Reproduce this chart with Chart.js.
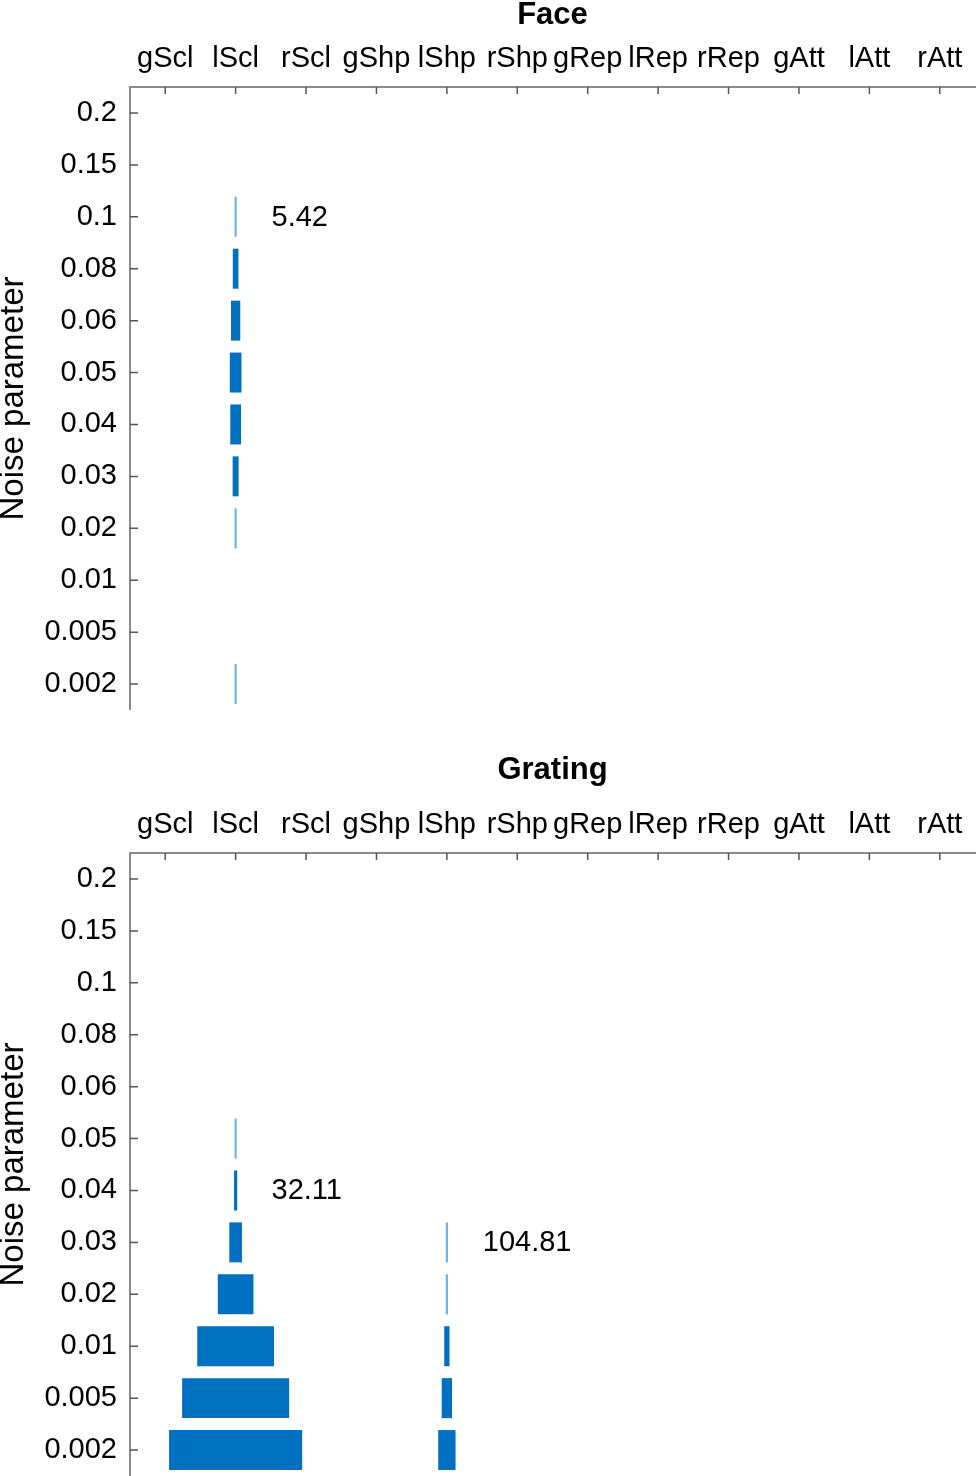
<!DOCTYPE html>
<html>
<head>
<meta charset="utf-8">
<script src="https://cdn.jsdelivr.net/npm/chart.js@4"></script>
<style>
  body { margin: 0; background: #fff; overflow: hidden; }
  .panel { position: absolute; left: 0; width: 977px; }
</style>
</head>
<body>
<div class="panel" style="top:0"><canvas id="face" width="977" height="710"></canvas></div>
<div class="panel" style="top:746px"><canvas id="grating" width="977" height="730"></canvas></div>
<script>
const columns = ['gScl', 'lScl', 'rScl', 'gShp', 'lShp', 'rShp', 'gRep', 'lRep', 'rRep', 'gAtt', 'lAtt', 'rAtt'];
const noiseLevels = ['0.2', '0.15', '0.1', '0.08', '0.06', '0.05', '0.04', '0.03', '0.02', '0.01', '0.005', '0.002'];

// bar widths, in units of one column
const faceLScl = [0, 0, 0.03, 0.08, 0.132, 0.166, 0.152, 0.085, 0.03, 0, 0, 0.03];
const gratingLScl = [0, 0, 0, 0, 0, 0.03, 0.045, 0.18, 0.507, 1.09, 1.52, 1.89];
const gratingLShp = [0, 0, 0, 0, 0, 0, 0, 0.03, 0.03, 0.075, 0.147, 0.246];

const faceNotes = [{ col: 'lScl', row: '0.1', text: '5.42' }];
const gratingNotes = [
  { col: 'lScl', row: '0.04', text: '32.11' },
  { col: 'lShp', row: '0.03', text: '104.81' }
];

const FONT = '"Liberation Sans", Arial, Helvetica, sans-serif';
const dark = '#0070c0';
const light = '#6cb0e2';

function column(name, widths) {
  const c = columns.indexOf(name);
  return {
    label: name,
    data: widths.map(w => w > 0 ? [c - w / 2, c + w / 2] : null),
    backgroundColor: widths.map(w => w < 0.04 ? light : dark),
    borderWidth: 0,
    barPercentage: 0.77,
    categoryPercentage: 1,
    grouped: false
  };
}

const innerTicks = {
  id: 'innerTicks',
  afterDraw(chart) {
    const ctx = chart.ctx;
    const { x, y } = chart.scales;
    const area = chart.chartArea;
    ctx.save();
    ctx.strokeStyle = '#555';
    ctx.lineWidth = 1.5;
    ctx.beginPath();
    x.ticks.forEach((t, i) => {
      const px = x.getPixelForTick(i);
      ctx.moveTo(px, area.top);
      ctx.lineTo(px, area.top + 7);
    });
    y.ticks.forEach((t, i) => {
      const py = y.getPixelForTick(i);
      ctx.moveTo(area.left, py);
      ctx.lineTo(area.left + 8, py);
    });
    ctx.stroke();
    ctx.restore();
  }
};

const notesPlugin = {
  id: 'notes',
  afterDatasetsDraw(chart, args, opts) {
    const ctx = chart.ctx;
    const { x, y } = chart.scales;
    ctx.save();
    ctx.font = '29px ' + FONT;
    ctx.fillStyle = '#000';
    ctx.textAlign = 'left';
    ctx.textBaseline = 'middle';
    opts.items.forEach(n => {
      const px = x.getPixelForValue(columns.indexOf(n.col) + 0.51);
      const py = y.getPixelForValue(noiseLevels.indexOf(n.row));
      ctx.fillText(n.text, px, py + 1);
    });
    ctx.restore();
  }
};

function makeChart(id, title, datasets, notes, axisHeight, titlePad) {
  return new Chart(document.getElementById(id), {
    type: 'bar',
    data: { labels: noiseLevels, datasets: datasets },
    plugins: [innerTicks, notesPlugin],
    options: {
      indexAxis: 'y',
      responsive: false,
      animation: false,
      devicePixelRatio: 1,
      layout: { padding: { left: 0, right: 2, top: 0, bottom: 0 } },
      plugins: {
        legend: { display: false },
        tooltip: { enabled: false },
        notes: { items: notes }
      },
      scales: {
        x: {
          type: 'linear',
          position: 'top',
          min: -0.5,
          max: 11.5,
          afterBuildTicks: scale => { scale.ticks = columns.map((c, i) => ({ value: i })); },
          afterFit: scale => { scale.height = axisHeight; },
          ticks: {
            callback: v => columns[v],
            autoSkip: false,
            maxRotation: 0,
            padding: 11,
            color: '#000',
            font: { family: FONT, size: 29 }
          },
          grid: { display: false, drawTicks: false },
          border: { display: true, color: '#8a8a8a', width: 2 },
          title: {
            display: true,
            text: title,
            color: '#000',
            font: { family: FONT, size: 31, weight: 'bold', lineHeight: 1 },
            padding: { top: titlePad, bottom: 0 }
          }
        },
        y: {
          type: 'category',
          position: 'left',
          offset: true,
          afterFit: scale => {
            scale.width = 130;
            scale.paddingTop = 0;
            scale.paddingBottom = 0;
          },
          ticks: {
            padding: 13,
            color: '#000',
            font: { family: FONT, size: 29 }
          },
          grid: { display: false, drawTicks: false },
          border: { display: true, color: '#8a8a8a', width: 2 },
          title: {
            display: true,
            text: 'Noise parameter',
            color: '#000',
            font: { family: FONT, size: 33, lineHeight: 0.85 },
            padding: { top: 0, bottom: 0 }
          }
        }
      }
    }
  });
}

makeChart('face', 'Face', [column('lScl', faceLScl)], faceNotes, 87, -0.5);
makeChart('grating', 'Grating', [column('lScl', gratingLScl), column('lShp', gratingLShp)], gratingNotes, 107, 8.5);
</script>
</body>
</html>
